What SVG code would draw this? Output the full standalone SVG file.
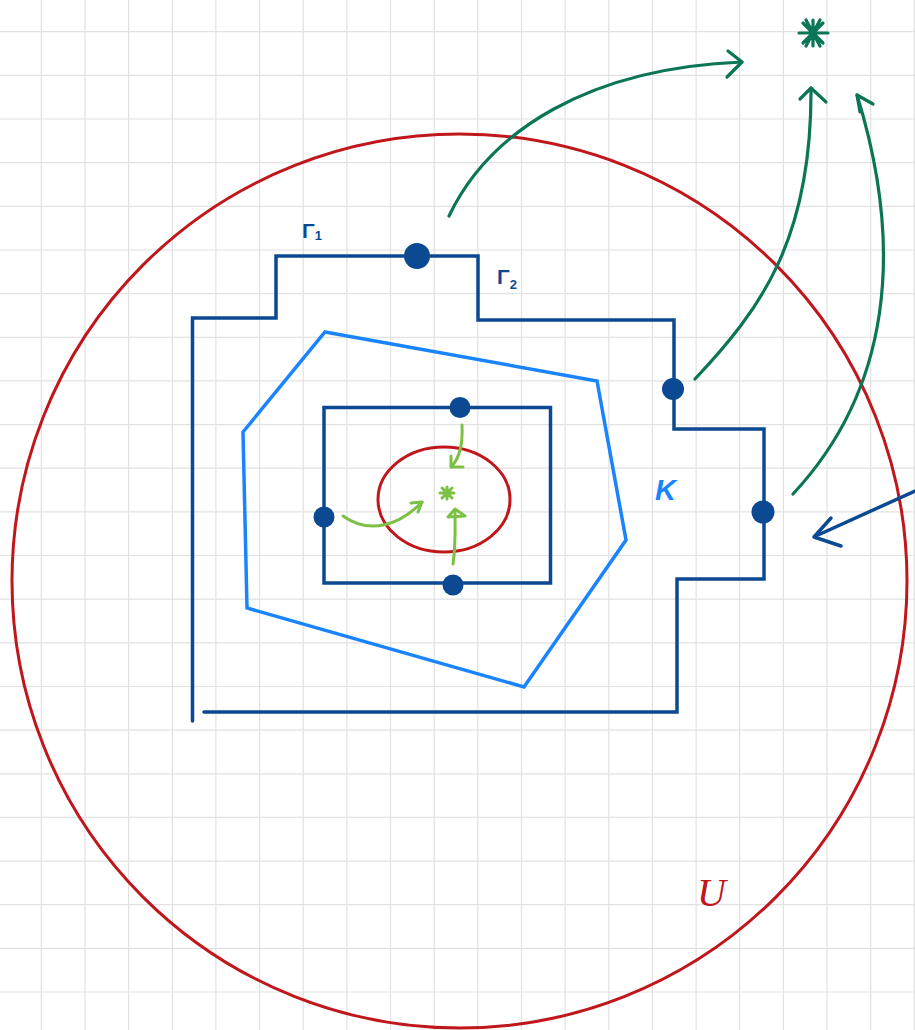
<svg xmlns="http://www.w3.org/2000/svg" width="915" height="1030" viewBox="0 0 915 1030">
<style>
.grid{fill:none;stroke:#e2e2e2;stroke-width:1.2}
.contour{fill:none;stroke:#0b4a93;stroke-width:3.5;stroke-linejoin:miter;stroke-linecap:round}
.dot{fill:#0b4a93}
.kpoly{fill:none;stroke:#1a84ff;stroke-width:3.5;stroke-linejoin:miter}
.red{fill:none;stroke:#c0171c;stroke-width:3}
.dg{fill:none;stroke:#0b7656;stroke-width:3.2;stroke-linecap:round;stroke-linejoin:round}
.lg{fill:none;stroke:#7cc143;stroke-width:3;stroke-linecap:round;stroke-linejoin:round}
.bl{fill:none;stroke:#0b4a93;stroke-width:3.5;stroke-linecap:round;stroke-linejoin:round}
.lbl{font-family:"Liberation Sans",Arial,sans-serif;fill:#0b4a93;font-weight:bold}
</style>
<rect width="915" height="1030" fill="#ffffff"/>
<g id="grid">
<path class="grid" d="M41.3,0V1030M85,0V1030M128.6,0V1030M172.3,0V1030M215.9,0V1030M259.6,0V1030M303.2,0V1030M346.9,0V1030M390.5,0V1030M434.2,0V1030M477.8,0V1030M521.5,0V1030M565.1,0V1030M608.8,0V1030M652.4,0V1030M696.1,0V1030M739.7,0V1030M783.4,0V1030M827,0V1030M870.7,0V1030M914.3,0V1030
M0,31.7H915M0,75.4H915M0,119H915M0,162.7H915M0,206.3H915M0,250H915M0,293.6H915M0,337.3H915M0,380.9H915M0,424.6H915M0,468.2H915M0,511.9H915M0,555.5H915M0,599.2H915M0,642.8H915M0,686.5H915M0,730.1H915M0,773.8H915M0,817.4H915M0,861.1H915M0,904.7H915M0,948.4H915M0,992H915"/>
</g>
<g id="U-circle">
<ellipse class="red" cx="459.5" cy="581" rx="447.5" ry="447"/>
<text x="697" y="906" font-family="Liberation Serif,serif" font-style="italic" font-size="40" fill="#c0171c">U</text>
</g>
<g id="K-polygon">
<polygon class="kpoly" points="325,332 597,381 626,540 524,687 247,608 243,432"/>
<text x="655" y="500" font-family="Liberation Sans,Arial,sans-serif" font-style="italic" font-weight="bold" font-size="29" fill="#1a84ff">K</text>
</g>
<g id="gamma-contour">
<path class="contour" d="M192.5,721 V318 H276 V256 H478 V320 H674 V429 H764 V579 H677 V712 H204"/>
<circle class="dot" cx="417" cy="256" r="13"/>
<circle class="dot" cx="673" cy="389" r="11"/>
<circle class="dot" cx="763" cy="512" r="11.5"/>
<text class="lbl" x="302" y="238" font-size="21">Γ<tspan font-size="13" dy="2">1</tspan></text>
<text class="lbl" x="497" y="284" font-size="21">Γ<tspan font-size="13" dy="5">2</tspan></text>
</g>
<g id="inner-rect">
<rect class="contour" x="324" y="407.5" width="226.5" height="175.5"/>
<circle class="dot" cx="460" cy="407.5" r="10.5"/>
<circle class="dot" cx="324" cy="517" r="10.5"/>
<circle class="dot" cx="453" cy="585" r="10.5"/>
</g>
<g id="inner-circle">
<ellipse class="red" cx="444" cy="499.5" rx="66" ry="52.5"/>
</g>
<g id="inner-star">
<path class="lg" stroke-width="3.5" d="M440,493H454M447,487V499M442,488L452,498M452,488L442,498"/>
</g>
<g id="top-star">
<path class="dg" stroke-width="5.5" d="M799,33H828M813,20V46M803,23L823,43M823,23L803,43M806,20L820,46M820,20L806,46"/>
</g>
<g id="connectors">
<path class="dg" d="M449,216 C490,130 590,68 742,62"/>
<path class="dg" d="M728,51 L742,62 L727,77"/>
<path class="dg" d="M695,379 C760,310 812,240 811,88"/>
<path class="dg" d="M800,99 L811,88 L826,102"/>
<path class="dg" d="M793,494 C890,390 905,250 857,95"/>
<path class="dg" d="M873,104 L857,95 L860,112"/>
<path class="lg" d="M462,425 C463,445 460,458 451,467"/>
<path class="lg" d="M463,467 L451,467 L451,456"/>
<path class="lg" d="M343,516 C370,535 400,525 422,502"/>
<path class="lg" d="M411,503 L422,502 L418,512"/>
<path class="lg" d="M453,564 C456,545 455,525 455,510"/>
<path class="lg" d="M448,517 L455,509 L465,516 Z"/>
<path class="bl" d="M915,491 L818,535"/>
<path class="bl" d="M831,518 L814,537 L841,546"/>
</g>
</svg>
